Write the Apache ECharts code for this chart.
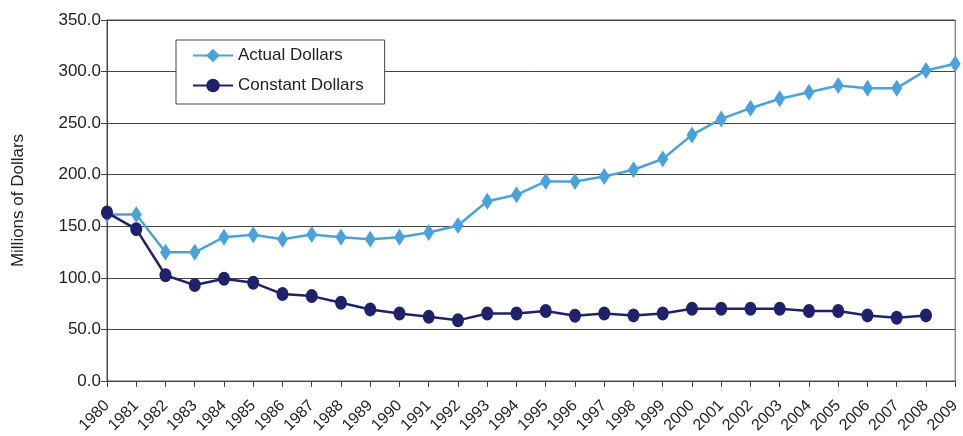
<!DOCTYPE html>
<html>
<head>
<meta charset="utf-8">
<script src="https://cdn.jsdelivr.net/npm/echarts@6/dist/echarts.min.js"></script>
<style>
  html, body { margin: 0; padding: 0; background: #fff; }
  #chart { width: 963px; height: 436px; }
</style>
</head>
<body>
<div id="chart"></div>
<script>
// Years on the category axis
const years = ['1980','1981','1982','1983','1984','1985','1986','1987','1988','1989',
  '1990','1991','1992','1993','1994','1995','1996','1997','1998','1999',
  '2000','2001','2002','2003','2004','2005','2006','2007','2008','2009'];

// Spending in millions of dollars, nominal
const actualDollars = [161.4, 161.4, 124.8, 124.8, 139.4, 141.7, 137.5, 142.0, 139.4, 137.5,
  139.4, 143.9, 150.7, 174.2, 180.5, 193.5, 193.5, 198.3, 204.8, 215.2,
  238.6, 254.1, 264.5, 273.6, 280.0, 286.5, 283.9, 283.9, 301.1, 307.6];

// Spending in millions of dollars, inflation adjusted (no 2009 value)
const constantDollars = [163.3, 147.2, 102.5, 93.0, 99.2, 95.3, 84.3, 82.3, 75.8, 69.4,
  65.5, 62.2, 58.8, 65.5, 65.5, 67.8, 63.2, 65.5, 63.6, 65.5,
  70.0, 70.0, 70.0, 70.0, 67.8, 67.8, 63.6, 61.3, 63.6, null];

const seriesNames = ['Actual Dollars', 'Constant Dollars'];
const axisTitle = 'Millions of Dollars';

const font = 'Liberation Sans, Arial, Helvetica, sans-serif';
const chart = echarts.init(document.getElementById('chart'), null, { renderer: 'canvas' });

chart.setOption({
  animation: false,
  backgroundColor: '#fff',
  grid: {
    left: 107, right: 5, top: 20, bottom: 55,
    show: true, borderColor: '#555', borderWidth: 1, backgroundColor: 'transparent'
  },
  legend: {
    left: 176, top: 40,
    orient: 'vertical',
    padding: [7, 21, 10, 16],
    itemGap: 13,
    itemWidth: 40, itemHeight: 17,
    backgroundColor: '#fff',
    borderColor: '#444', borderWidth: 1,
    borderRadius: 0,
    textStyle: { fontFamily: font, fontSize: 17, color: '#222' },
    data: seriesNames
  },
  xAxis: {
    type: 'category',
    data: years,
    boundaryGap: false,
    axisLine: { lineStyle: { color: '#444', width: 1 } },
    axisTick: { show: true, length: 6, alignWithLabel: true, lineStyle: { color: '#444' } },
    axisLabel: {
      rotate: 45, interval: 0, margin: 22,
      fontFamily: font, fontSize: 16, color: '#222'
    },
    splitLine: { show: false }
  },
  yAxis: {
    type: 'value',
    min: 0, max: 350, interval: 50,
    name: axisTitle,
    nameLocation: 'middle',
    nameGap: 80,
    nameTextStyle: { fontFamily: font, fontSize: 17, color: '#222' },
    axisLine: { show: true, lineStyle: { color: '#444', width: 1 } },
    axisTick: { show: true, length: 6, lineStyle: { color: '#444' } },
    axisLabel: {
      formatter: v => v.toFixed(1),
      fontFamily: font, fontSize: 17, color: '#222', margin: 6
    },
    splitLine: { show: true, lineStyle: { color: '#444', width: 1 } }
  },
  series: [
    {
      name: seriesNames[0],
      type: 'line',
      data: actualDollars,
      symbol: 'diamond',
      symbolSize: [11, 17],
      showAllSymbol: true,
      lineStyle: { color: '#4AA2DA', width: 2.5 },
      itemStyle: { color: '#4AA2DA' },
      z: 2
    },
    {
      name: seriesNames[1],
      type: 'line',
      data: constantDollars,
      symbol: 'circle',
      symbolSize: [12, 14],
      showAllSymbol: true,
      lineStyle: { color: '#1F216B', width: 2.5 },
      itemStyle: { color: '#1F216B' },
      z: 3
    }
  ]
});
</script>
</body>
</html>
